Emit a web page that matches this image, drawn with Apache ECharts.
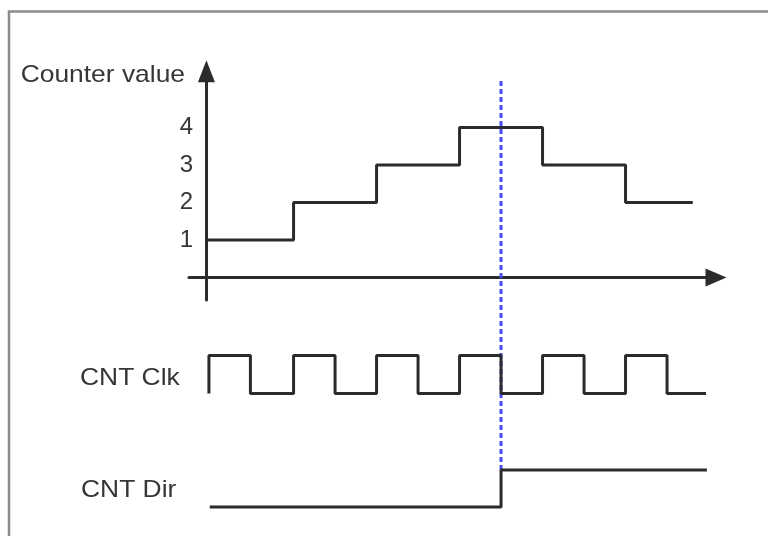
<!DOCTYPE html>
<html>
<head>
<meta charset="utf-8">
<script src="https://cdn.jsdelivr.net/npm/echarts@6/dist/echarts.min.js"></script>
<style>
  html, body { margin: 0; padding: 0; background: #ffffff; }
  #chart { width: 768px; height: 536px; }
</style>
</head>
<body>
<div id="chart"></div>
<script>
// ---- data (time in clock periods, origin at the counter's vertical axis) ----
var axisTitle = 'Counter value';
var signalNames = ['CNT Clk', 'CNT Dir'];
var yTickLabels = [1, 2, 3, 4];

var counterTimes  = [0, 1.05, 2.05, 3.05, 4.05, 5.05, 5.86];
var counterValues = [1, 2, 3, 4, 3, 2, 2];

var clockTimes  = [0.03, 0.03, 0.53, 1.05, 1.55, 2.05, 2.55, 3.05, 3.55, 4.05, 4.55, 5.05, 5.55, 6.02];
var clockValues = [0, 1, 0, 1, 0, 1, 0, 1, 0, 1, 0, 1, 0, 0];

var dirTimes  = [0.04, 3.55, 6.03];
var dirValues = [0, 1, 1];

var cursorTime = 3.55;

// ---- build ----
function zip(t, v) { return t.map(function (x, i) { return [x, v[i]]; }); }

var X_MIN = -0.21, X_MAX = 6.14;
var LINE = '#2b2b2b';
var TEXT = '#363636';
var FONT = 'Liberation Sans, Arial, sans-serif';

function hiddenX(idx) {
  return { type: 'value', gridIndex: idx, min: X_MIN, max: X_MAX, show: false };
}
function hiddenY(idx) {
  return { type: 'value', gridIndex: idx, min: 0, max: 1, show: false };
}

var chart = echarts.init(document.getElementById('chart'), null, { renderer: 'canvas' });
var option = {
  animation: false,
  backgroundColor: '#ffffff',
  grid: [
    { left: 189, width: 527, top: 71.25, height: 228.75 },   // counter
    { left: 189, width: 527, top: 355.5, height: 38 },       // clock
    { left: 189, width: 527, top: 470, height: 37 },         // dir
    { left: 189, width: 527, top: 80, height: 390 }          // cursor overlay
  ],
  xAxis: [
    {
      type: 'value', gridIndex: 0, min: X_MIN, max: X_MAX,
      axisLine: { show: true, onZero: true, symbol: ['none', 'triangle'], symbolSize: [18, 21],
                  lineStyle: { color: LINE, width: 3 } },
      axisTick: { show: false }, axisLabel: { show: false }, splitLine: { show: false }
    },
    hiddenX(1), hiddenX(2), hiddenX(3)
  ],
  yAxis: [
    {
      type: 'value', gridIndex: 0, min: -0.6, max: 5.5,
      axisLine: { show: true, onZero: true, symbol: ['none', 'triangle'], symbolSize: [17, 22],
                  lineStyle: { color: LINE, width: 3 } },
      axisTick: { show: false }, splitLine: { show: false },
      axisLabel: { show: true, customValues: yTickLabels, margin: -4,
                   fontSize: 24, fontFamily: FONT, color: TEXT }
    },
    hiddenY(1), hiddenY(2), hiddenY(3)
  ],
  graphic: [
    { type: 'rect', z: 0, silent: true,
      shape: { x: 9, y: 11.5, width: 900, height: 700 },
      style: { fill: 'none', stroke: '#8c8c8c', lineWidth: 2.5 } },
    { type: 'text', x: 185, y: 75, scaleX: 1.1, z: 10,
      style: { text: axisTitle, font: '24px ' + FONT, fill: TEXT,
               align: 'right', textAlign: 'right', verticalAlign: 'middle', textVerticalAlign: 'middle' } },
    { type: 'text', x: 80, y: 378, scaleX: 1.1, z: 10,
      style: { text: signalNames[0], font: '24px ' + FONT, fill: TEXT,
               align: 'left', textAlign: 'left', verticalAlign: 'middle', textVerticalAlign: 'middle' } },
    { type: 'text', x: 81, y: 490, scaleX: 1.1, z: 10,
      style: { text: signalNames[1], font: '24px ' + FONT, fill: TEXT,
               align: 'left', textAlign: 'left', verticalAlign: 'middle', textVerticalAlign: 'middle' } }
  ],
  series: [
    { type: 'line', name: 'Counter', xAxisIndex: 0, yAxisIndex: 0, step: 'end',
      data: zip(counterTimes, counterValues), showSymbol: false, symbol: 'none', clip: false, z: 2,
      lineStyle: { color: LINE, width: 3 } },
    { type: 'line', name: 'Cursor', xAxisIndex: 3, yAxisIndex: 3,
      data: [[cursorTime, 0], [cursorTime, 1]], showSymbol: false, symbol: 'none', clip: false, z: 3,
      lineStyle: { color: '#4a4af8', width: 3, type: [5, 3] } },
    { type: 'line', name: signalNames[0], xAxisIndex: 1, yAxisIndex: 1, step: 'end',
      data: zip(clockTimes, clockValues), showSymbol: false, symbol: 'none', clip: false, z: 4,
      lineStyle: { color: LINE, width: 3 } },
    { type: 'line', name: signalNames[1], xAxisIndex: 2, yAxisIndex: 2, step: 'end',
      data: zip(dirTimes, dirValues), showSymbol: false, symbol: 'none', clip: false, z: 4,
      lineStyle: { color: LINE, width: 3 } }
  ]
};
chart.setOption(option);
</script>
</body>
</html>
